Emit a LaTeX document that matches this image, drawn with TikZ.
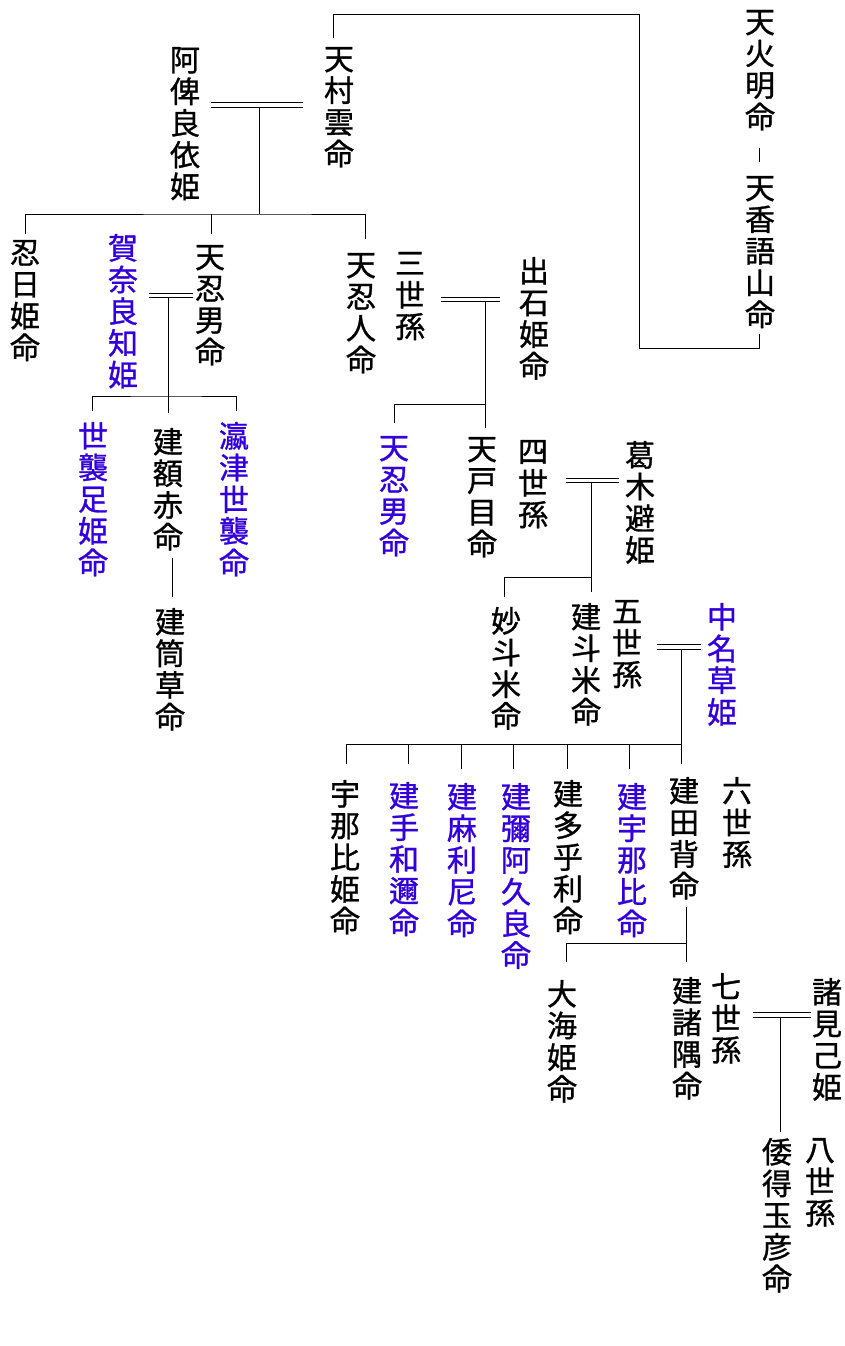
\documentclass[tikz,border=0pt]{standalone}
\usepackage{fontspec}
\setmainfont{Noto Sans CJK JP}
\newfontfamily\kfont{Noto Sans CJK JP}[FakeBold=1]
\definecolor{kblue}{RGB}{51,0,221}
\tikzset{
  vt/.style={inner sep=0pt, outer sep=0pt, anchor=north, align=center, font=\kfont\fontsize{30}{31.7}\selectfont, text=black},
  vtb/.style={vt, text=kblue},
  ln/.style={line width=1pt, draw=black}
}
\newcommand\vn[4]{\node[vt] (#1) at (#2,#3) {#4};}
\newcommand\vb[4]{\node[vtb] (#1) at (#2,#3) {#4};}
\begin{document}
\begin{tikzpicture}[x=1pt,y=-1pt]
\fill[white] (0,0) rectangle (844,1346);
\useasboundingbox (0,0) rectangle (844,1346);
% nodes
\vn{hoa}{760}{10}{天\\火\\明\\命}
\vn{kago}{760}{176}{天\\香\\語\\山\\命}
\vn{mura}{339}{47}{天\\村\\雲\\命}
\vn{abe}{185}{47}{阿\\俾\\良\\依\\姫}
\vn{oshihi}{25}{240}{忍\\日\\姫\\命}
\vb{kana}{123}{234}{賀\\奈\\良\\知\\姫}
\vn{oshio}{210}{245}{天\\忍\\男\\命}
\vn{oshihito}{361}{253}{天\\忍\\人\\命}
\vn{san}{410}{252}{三\\世\\孫}
\vn{izushi}{534}{257}{出\\石\\姫\\命}
\vb{yoso}{93}{422}{世\\襲\\足\\姫\\命}
\vn{nuka}{168}{428}{建\\額\\赤\\命}
\vb{oki}{234}{422}{瀛\\津\\世\\襲\\命}
\vn{tsutsu}{170}{608}{建\\筒\\草\\命}
\vb{oshiob}{394}{436}{天\\忍\\男\\命}
\vn{tomame}{482}{437}{天\\戸\\目\\命}
\vn{yon}{533}{440}{四\\世\\孫}
\vn{katsu}{640}{441}{葛\\木\\避\\姫}
\vn{tae}{506}{607}{妙\\斗\\米\\命}
\vn{tatome}{586}{603}{建\\斗\\米\\命}
\vn{go}{627}{600}{五\\世\\孫}
\vb{nakana}{722}{603}{中\\名\\草\\姫}
\vn{una}{345}{780}{宇\\那\\比\\姫\\命}
\vb{tate}{404}{782}{建\\手\\和\\邇\\命}
\vb{asa}{462}{783}{建\\麻\\利\\尼\\命}
\vb{mia}{516}{783}{建\\彌\\阿\\久\\良\\命}
\vn{tao}{568}{780}{建\\多\\乎\\利\\命}
\vb{tu}{632}{783}{建\\宇\\那\\比\\命}
\vn{tase}{684}{777}{建\\田\\背\\命}
\vn{roku}{737}{777}{六\\世\\孫}
\vn{oumi}{562}{980}{大\\海\\姫\\命}
\vn{moro}{687}{977}{建\\諸\\隅\\命}
\vn{nana}{726}{973}{七\\世\\孫}
\vn{moromi}{827}{978}{諸\\見\\己\\姫}
\vn{yamato}{777}{1138}{倭\\得\\玉\\彦\\命}
\vn{hachi}{820}{1138}{八\\世\\孫}
% coordinates
\coordinate (kagoB) at (759,334);
\coordinate (muraT) at (333,38);
\coordinate (hoaB) at (759,148);
\coordinate (kagoT) at (759,162);
% top bracket
\draw[ln] (kagoB) |- (639,348) |- (333,15) -- (muraT);
\draw[ln] (hoaB) -- (kagoT);
% abe = mura
\coordinate (m1a) at (211,102); \coordinate (m1b) at (303,102);
\coordinate (m1c) at (211,107); \coordinate (m1d) at (303,107);
\draw[ln] (m1a) -- (m1b) (m1c) -- (m1d);
\coordinate (m1j) at (259,107); \coordinate (m1k) at (259,214);
\draw[ln] (m1j) -- (m1k);
\coordinate (c11) at (25,234); \coordinate (c12) at (211,234); \coordinate (c13) at (365,239);
\draw[ln] (c11) |- (m1k) -| (c13);
\draw[ln] (c12) -- (c12 |- m1k);
% kana = oshio
\coordinate (m2a) at (149,293); \coordinate (m2b) at (193,293);
\coordinate (m2c) at (149,297); \coordinate (m2d) at (193,297);
\draw[ln] (m2a) -- (m2b) (m2c) -- (m2d);
\coordinate (m2j) at (168,297); \coordinate (m2k) at (168,413);
\draw[ln] (m2j) -- (m2k);
\coordinate (c21) at (92,411); \coordinate (c23) at (236,411); \coordinate (h2) at (168,396);
\draw[ln] (c21) |- (h2) -| (c23);
% nuka - tsutsu
\coordinate (n1) at (172,558); \coordinate (n2) at (172,597);
\draw[ln] (n1) -- (n2);
% san = izushi
\coordinate (m3a) at (441,297); \coordinate (m3b) at (500,297);
\coordinate (m3c) at (441,301); \coordinate (m3d) at (500,301);
\draw[ln] (m3a) -- (m3b) (m3c) -- (m3d);
\coordinate (m3j) at (485,301); \coordinate (m3k) at (485,428);
\draw[ln] (m3j) -- (m3k);
\coordinate (c31) at (394,423); \coordinate (h3) at (485,404);
\draw[ln] (c31) |- (h3);
% yon = katsu
\coordinate (m4a) at (566,478); \coordinate (m4b) at (619,478);
\coordinate (m4c) at (566,482); \coordinate (m4d) at (619,482);
\draw[ln] (m4a) -- (m4b) (m4c) -- (m4d);
\coordinate (m4j) at (591,482); \coordinate (m4k) at (591,592);
\draw[ln] (m4j) -- (m4k);
\coordinate (c41) at (504,597); \coordinate (h4) at (591,577);
\draw[ln] (c41) |- (h4);
% go = nakana
\coordinate (m5a) at (657,644); \coordinate (m5b) at (701,644);
\coordinate (m5c) at (657,649); \coordinate (m5d) at (701,649);
\draw[ln] (m5a) -- (m5b) (m5c) -- (m5d);
\coordinate (m5j) at (681,649); \coordinate (m5k) at (681,764);
\draw[ln] (m5j) -- (m5k);
\coordinate (c51) at (346,764); \coordinate (h5) at (681,744);
\draw[ln] (c51) |- (h5);
\foreach \xx/\yy in {408/764, 461/769, 513/769, 567/769, 629/769}
  \draw[ln] (\xx,744) -- (\xx,\yy);
% tase children
\coordinate (t1) at (686,907); \coordinate (t2) at (686,962);
\draw[ln] (t1) -- (t2);
\coordinate (c61) at (566,962); \coordinate (h6) at (686,943);
\draw[ln] (c61) |- (h6);
% nana = moromi
\coordinate (m7a) at (753,1012); \coordinate (m7b) at (811,1012);
\coordinate (m7c) at (753,1017); \coordinate (m7d) at (811,1017);
\draw[ln] (m7a) -- (m7b) (m7c) -- (m7d);
\coordinate (m7j) at (780,1017); \coordinate (m7k) at (780,1132);
\draw[ln] (m7j) -- (m7k);
\end{tikzpicture}
\end{document}
